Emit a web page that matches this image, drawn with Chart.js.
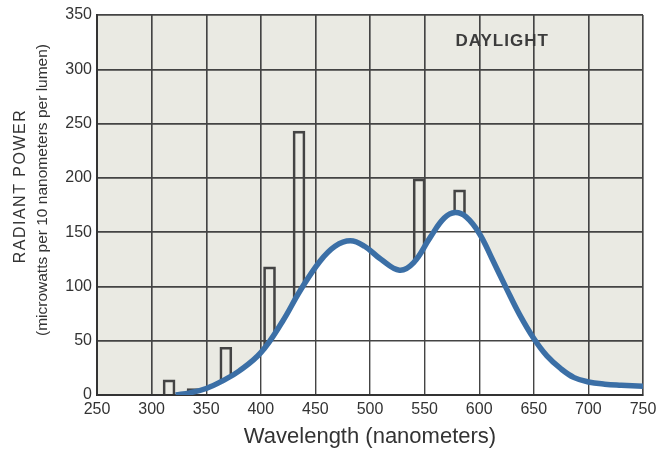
<!DOCTYPE html>
<html>
<head>
<meta charset="utf-8">
<title>Daylight - radiant power</title>
<script src="https://cdn.jsdelivr.net/npm/chart.js@4.4.0/dist/chart.umd.min.js"></script>
<style>
    html, body { margin: 0; padding: 0; background: #fff; }
    #wrap { width: 669px; height: 450px; }
</style>
</head>
<body>
<div id="wrap"><canvas id="spdChart" width="669" height="450"></canvas></div>
<script>
// Daylight fluorescent lamp, spectral power distribution (Chart.js 4)

// axis ticks
const xTicks = [250, 300, 350, 400, 450, 500, 550, 600, 650, 700, 750];
const yTicks = [0, 50, 100, 150, 200, 250, 300, 350];

// continuous spectrum (nm -> microwatts per 10 nm per lumen)
const curveNm    = [322, 335, 350, 365, 380, 400, 420, 436, 454, 468, 482, 495, 510, 527, 540, 555, 568, 578, 588, 600, 612, 625, 637, 650, 662, 675, 687, 700, 715, 730, 750];
const curvePower = [0,   2,   6,   13,  22,  39,  68,  96,  123, 137, 142, 137, 125, 115, 122, 145, 163, 168, 164, 149, 125, 98,  74,  52,  36,  24,  16,  12,  10,  9,   8];

// mercury emission lines
const lineNm    = [316, 338, 368, 408, 435, 545, 582];
const linePower = [14,  6,   44,  118, 243, 199, 189];

const labelText = "DAYLIGHT";
const yTitle = "RADIANT POWER";
const ySubTitle = "(microwatts per 10 nanometers per lumen)";
const xTitle = "Wavelength (nanometers)";

const FONT = "'Liberation Sans', Arial, Helvetica, sans-serif";
const INK = "#333";
const GRID = "#444";

function pairs(xs, ys) {
    return xs.map(function (x, i) { return { x: x, y: ys[i] }; });
}

// grey paper behind the plot, grid again on top of the white fill, labels
const paperPlugin = {
    id: "paper",
    beforeDraw: function (chart) {
        const a = chart.chartArea;
        const ctx = chart.ctx;
        ctx.save();
        ctx.fillStyle = "#eaeae3";
        ctx.fillRect(a.left, a.top, a.right - a.left, a.bottom - a.top);
        ctx.restore();
    },
    afterDatasetDraw: function (chart, args) {
        if (args.index !== 1) return;
        chart.scales.x.drawGrid(chart.chartArea);
        chart.scales.y.drawGrid(chart.chartArea);
        chart.scales.x.drawBorder();
        chart.scales.y.drawBorder();
    },
    afterDraw: function (chart) {
        const ctx = chart.ctx;
        const x = chart.scales.x, y = chart.scales.y;
        ctx.save();
        ctx.fillStyle = "#3c3c3c";
        ctx.font = "bold 17px " + FONT;
        ctx.textAlign = "center";
        ctx.textBaseline = "middle";
        ctx.letterSpacing = "1px";
        ctx.fillText(labelText, x.getPixelForValue(621), y.getPixelForValue(326));
        ctx.restore();

        ctx.save();
        ctx.fillStyle = INK;
        ctx.textAlign = "center";
        ctx.textBaseline = "middle";
        ctx.translate(21, 186);
        ctx.rotate(-Math.PI / 2);
        ctx.font = "16px " + FONT;
        ctx.letterSpacing = "1.5px";
        ctx.fillText(yTitle, 0, 0);
        ctx.restore();

        ctx.save();
        ctx.fillStyle = INK;
        ctx.textAlign = "center";
        ctx.textBaseline = "middle";
        ctx.translate(43, 190);
        ctx.rotate(-Math.PI / 2);
        ctx.font = "15.5px " + FONT;
        ctx.fillText(ySubTitle, 0, 0);
        ctx.restore();
    }
};

const ctx = document.getElementById("spdChart").getContext("2d");

const spdChart = new Chart(ctx, {
    type: "line",
    data: {
        datasets: [
            {
                label: "spectrum",
                data: pairs(curveNm, curvePower),
                borderColor: "#3b6fa6",
                borderWidth: 5.5,
                pointRadius: 0,
                tension: 0.4,
                fill: false,
                order: 0
            },
            {
                label: "spectrum fill",
                data: pairs(curveNm, curvePower),
                borderWidth: 0,
                borderColor: "rgba(0,0,0,0)",
                backgroundColor: "#ffffff",
                pointRadius: 0,
                tension: 0.4,
                fill: "origin",
                order: 1
            },
            {
                type: "bar",
                label: "mercury lines",
                data: pairs(lineNm, linePower),
                backgroundColor: "rgba(0,0,0,0)",
                borderColor: "#444",
                borderWidth: 2,
                borderSkipped: "start",
                barThickness: 12,
                order: 2
            }
        ]
    },
    options: {
        responsive: false,
        animation: false,
        devicePixelRatio: 1,
        layout: { padding: { top: 15, right: 26, left: 0, bottom: 0 } },
        plugins: {
            legend: { display: false },
            tooltip: { enabled: false }
        },
        scales: {
            x: {
                type: "linear",
                min: xTicks[0],
                max: xTicks[xTicks.length - 1],
                offset: false,
                afterFit: function (scale) { scale.height = 55; },
                afterBuildTicks: function (scale) {
                    scale.ticks = xTicks.map(function (v) { return { value: v }; });
                },
                ticks: {
                    color: INK,
                    padding: 5,
                    maxRotation: 0,
                    autoSkip: false,
                    font: { family: FONT, size: 16 }
                },
                grid: { color: GRID, lineWidth: 1.4, drawTicks: false, offset: false },
                border: { display: true, color: "#333", width: 2 },
                title: {
                    display: true,
                    text: xTitle,
                    color: INK,
                    padding: { top: 0, bottom: 0 },
                    font: { family: FONT, size: 22 }
                }
            },
            y: {
                min: yTicks[0],
                max: yTicks[yTicks.length - 1],
                afterFit: function (scale) { scale.width = 97; },
                afterBuildTicks: function (scale) {
                    scale.ticks = yTicks.map(function (v) { return { value: v }; });
                },
                ticks: {
                    color: INK,
                    padding: 5,
                    font: { family: FONT, size: 16 }
                },
                grid: { color: GRID, lineWidth: 1.4, drawTicks: false },
                border: { display: true, color: "#333", width: 2 }
            }
        }
    },
    plugins: [paperPlugin]
});
</script>
</body>
</html>
